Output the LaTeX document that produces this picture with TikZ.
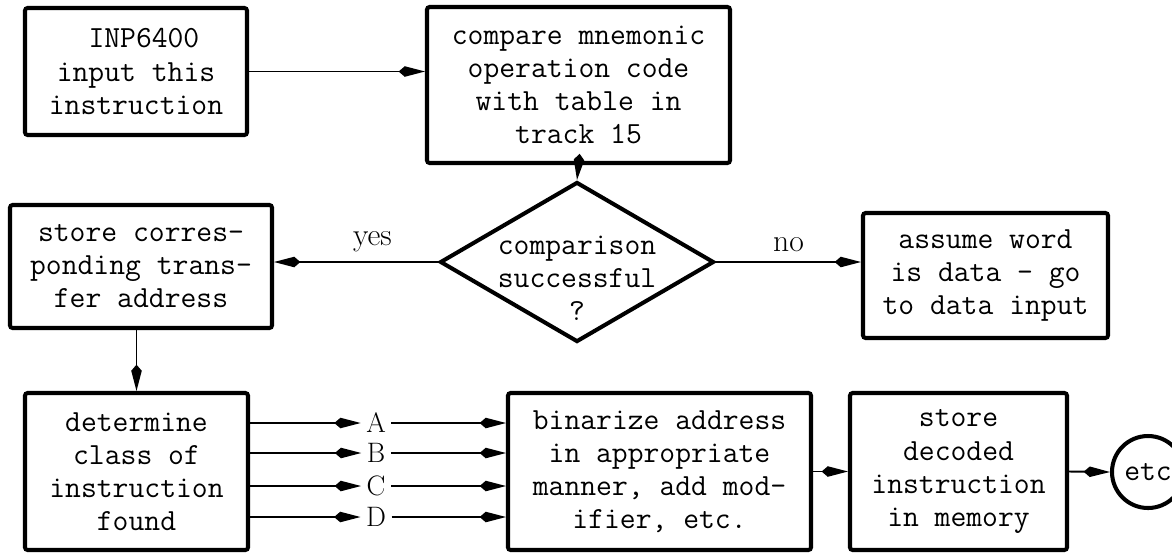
\documentclass[tikz,border=0pt]{standalone}
\usetikzlibrary{arrows.meta,shapes.geometric}
\newcommand\flowfont{\fontsize{17.5}{18.8}\selectfont\ttfamily}

\begin{document}
\begin{tikzpicture}[x=0.02cm, y=-0.02cm,
  box/.style={draw, line width=2.3pt, rounded corners=1.5pt, align=center, inner sep=0pt, font=\flowfont},
  conn/.style={line width=1.1pt, -{Kite[length=15pt,width=6pt,inset=3.5pt]}},
  lbl/.style={font=\fontsize{18}{20}\selectfont\rmfamily},
  cls/.style={font=\fontsize{16}{18}\selectfont\rmfamily, inner sep=3pt}]
  \useasboundingbox (0,0) rectangle (1172,552);
  \node[box, minimum width=222*0.02cm, minimum height=127*0.02cm] (inp) at (136,71.5) {\ INP6400\\input this\\instruction};
  \node[box, minimum width=303*0.02cm, minimum height=156*0.02cm] (cmp) at (578.5,85) {compare mnemonic\\operation code\\with table in\\track 15};
  \node[box, diamond, rounded corners=0pt, minimum width=274*0.02cm, minimum height=160*0.02cm] (dec) at (577,262)
    {\raisebox{-15pt}[0pt][0pt]{\makebox[0pt]{\begin{tabular}{@{}c@{}}comparison\\successful\\?\end{tabular}}}};
  \node[box, minimum width=262*0.02cm, minimum height=123*0.02cm] (store) at (141,266.5) {store corres-\\ponding trans-\\fer address};
  \node[box, minimum width=245*0.02cm, minimum height=125*0.02cm] (assume) at (985.5,275.5) {assume word\\is data - go\\to data input};
  \node[box, minimum width=223*0.02cm, minimum height=157*0.02cm] (det) at (136.5,471.5) {determine\\class of\\instruction\\found};
  \node[box, minimum width=303*0.02cm, minimum height=157*0.02cm] (bin) at (659.5,471.5) {binarize address\\in appropriate\\manner, add mod-\\ifier, etc.};
  \node[box, minimum width=217*0.02cm, minimum height=157*0.02cm] (mem) at (958.5,471.5) {store\\decoded\\instruction\\in memory};
  \node[box, circle, minimum size=72*0.02cm] (etc) at (1148,472) {etc};

  \draw[conn] (inp.east) -- (cmp.west |- inp.east);
  \draw[conn] (cmp.south) -- (dec.north);
  \draw[conn] (dec.west) -- node[lbl, pos=0.4, above=2pt] {yes} (dec.west -| store.east);
  \draw[conn] (dec.east) -- node[lbl, midway, above=2pt] {no} (dec.east -| assume.west);
  \draw[conn] (store.south -| det.north) -- (det.north);
  % one line per class of instruction
  \foreach \n/\y in {A/423,B/453,C/486,D/517} {
    \node[cls] (cl\n) at (376,\y) {\n};
    \draw[conn] (det.east |- cl\n) -- (cl\n.west);
    \draw[conn] (cl\n.east) -- (bin.west |- cl\n);
  }
  \draw[conn] (bin.east) -- (mem.west);
  \draw[conn] (mem.east) -- (etc.west);
\end{tikzpicture}
\end{document}
